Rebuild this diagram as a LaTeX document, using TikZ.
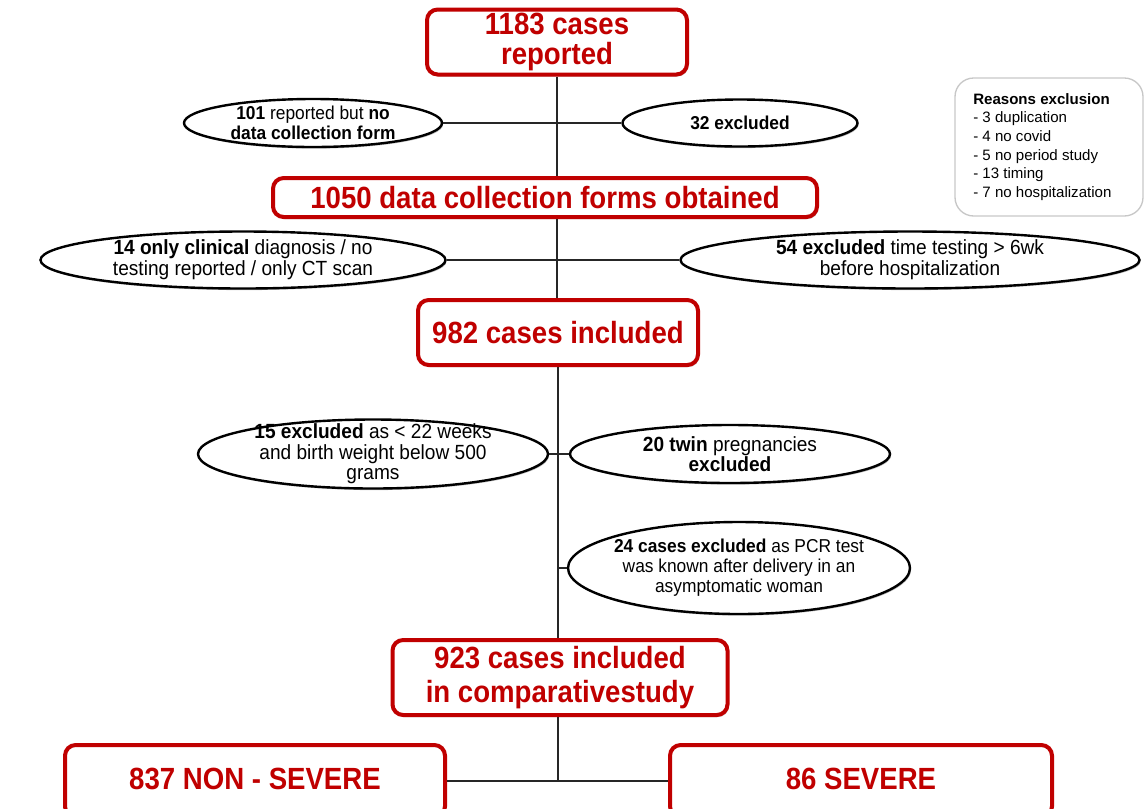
\documentclass[tikz,border=0pt]{standalone}
\usepackage{fontspec}
\setmainfont{Liberation Sans}
\newfontfamily\boxfont{Liberation Sans}[FakeStretch=0.9]
\newfontfamily\ellfont{Liberation Sans}[FakeStretch=0.93]
\usetikzlibrary{shapes.geometric,shadows}
\definecolor{boxred}{RGB}{192,0,0}
\begin{document}
\begin{tikzpicture}[x=0.75pt,y=-0.75pt,
 redbox/.style={draw=boxred, line width=3pt, rounded corners=8pt, fill=white, text=boxred,
   font=\boxfont\bfseries\fontsize{23}{24}\selectfont, align=center, inner sep=0pt,
   drop shadow={shadow xshift=1pt,shadow yshift=-1.5pt,fill=black!35,opacity=0.6}},
 excl/.style={draw=black, line width=1.8pt, ellipse, fill=white, inner sep=0pt,
   drop shadow={shadow xshift=0.8pt,shadow yshift=-1.2pt,fill=black!45,opacity=0.6}},
 etext/.style={font=\ellfont\fontsize{14}{15}\selectfont, align=center, inner sep=0pt},
 etextl/.style={font=\ellfont\fontsize{15.4}{15.5}\selectfont, align=center, inner sep=0pt},
 conn/.style={draw=black!85, line width=1.5pt}]
\useasboundingbox (0,0) rectangle (1145,808);
\clip (0,0) rectangle (1145,808);

% main boxes
\node[redbox, minimum width=195pt, minimum height=48.75pt, font=\boxfont\bfseries\fontsize{23}{22}\selectfont] (b1) at (557,42) {1183 cases\\reported};
\node[redbox, minimum width=408pt, minimum height=29.25pt] (b2) at (545,197.5) {1050 data collection forms obtained};
\node[redbox, minimum width=210pt, minimum height=48.75pt] (b3) at (558,332.5) {982 cases included};
\node[redbox, minimum width=251.25pt, minimum height=56.25pt, font=\boxfont\bfseries\fontsize{23}{25}\selectfont] (b4) at (560,677.5) {923 cases included\\in comparativestudy};
\node[redbox, minimum width=285pt, minimum height=54pt] (b5) at (255,781) {\raisebox{3pt}{837 NON - SEVERE}};
\node[redbox, minimum width=286.5pt, minimum height=54pt] (b6) at (861,781) {\raisebox{4pt}{86 SEVERE}};

% exclusion ellipses
\node[excl, minimum width=193.5pt, minimum height=36pt] (ea) at (313,123) {};
\node[etext] (ta) at (ea) {\textbf{101} reported but \textbf{no}\\\textbf{data collection form}};
\node[excl, minimum width=176.25pt, minimum height=35.25pt] (eb) at (740,123) {};
\node[etext] (tb) at (eb) {\textbf{32 excluded}};
\node[excl, minimum width=303.75pt, minimum height=42.75pt] (ec) at (243,260) {};
\node[etextl] (tc) at (ec) {\textbf{14 only clinical} diagnosis / no\\testing reported / only CT scan};
\node[excl, minimum width=344.25pt, minimum height=42.75pt] (ed) at (910,260) {};
\node[etextl] (td) at (ed) {\textbf{54 excluded} time testing > 6wk\\before hospitalization};
\node[excl, minimum width=262.5pt, minimum height=51.75pt] (ee) at (373,454) {};
\node[etextl] (te) at (ee) {\textbf{15 excluded} as < 22 weeks\\and birth weight below 500\\grams};
\node[excl, minimum width=240pt, minimum height=43.5pt] (ef) at (730,454) {};
\node[etextl] (tf) at (ef) {\textbf{20 twin} pregnancies\\\textbf{excluded}};
\node[excl, minimum width=256.5pt, minimum height=69pt] (eg) at (739,568) {};
\node[etext] (tg) at (eg) {\textbf{24 cases excluded} as PCR test\\was known after delivery in an\\asymptomatic woman};

% reasons box
\node[draw=black!22, line width=1pt, rounded corners=14pt, minimum width=141pt, minimum height=103.5pt, inner sep=0pt] (rb) at (1049,147) {};
\node[anchor=north west, align=left, inner sep=0pt, font=\fontsize{11.3}{14}\selectfont] (rt) at (973,93)
 {\textbf{Reasons exclusion}\\- 3 duplication\\- 4 no covid\\- 5 no period study\\- 13 timing\\- 7 no hospitalization};

% connectors
\draw[conn] (b1.south) -- (b1.south |- b2.north);
\draw[conn] (ea.east) -- (eb.west);
\draw[conn] (b2.south -| b1.south) -- (b1.south |- b3.north);
\draw[conn] (ec.east) -- (ed.west);
\draw[conn] (b3.south) -- (b3.south |- b4.north);
\draw[conn] (ee.east) -- (ef.west);
\draw[conn] (eg.west -| b3.south) -- (eg.west);
\draw[conn] (b4.south -| b3.south) -- (b3.south |- b5.east);
\draw[conn] (b5.east) -- (b6.west);
\end{tikzpicture}
\end{document}
